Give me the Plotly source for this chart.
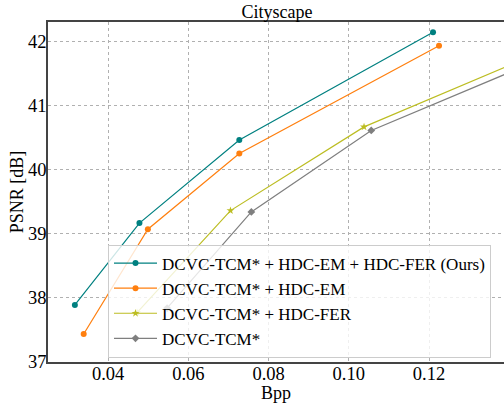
import plotly.graph_objects as go

# Data
bpp_ours = [0.0317, 0.0478, 0.0727, 0.1210]
psnr_ours = [37.89, 39.165, 40.46, 42.14]

bpp_em = [0.0339, 0.0499, 0.0727, 0.1225]
psnr_em = [37.436, 39.07, 40.25, 41.93]

bpp_fer = [0.0472, 0.0705, 0.1038, 0.1700]
psnr_fer = [37.77, 39.36, 40.665, 42.42]

bpp_base = [0.0547, 0.0757, 0.1056, 0.1720]
psnr_base = [37.84, 39.34, 40.61, 42.35]

names = ["DCVC-TCM* + HDC-EM + HDC-FER (Ours)", "DCVC-TCM* + HDC-EM",
         "DCVC-TCM* + HDC-FER", "DCVC-TCM*"]
colors = ["#008080", "#ff7f0e", "#bcbd22", "#7f7f7f"]
symbols = ["circle", "circle", "star", "diamond"]
msizes = [6, 6, 6, 6]

xs = [bpp_ours, bpp_em, bpp_fer, bpp_base]
ys = [psnr_ours, psnr_em, psnr_fer, psnr_base]

FONT = "Times New Roman, Liberation Serif, DejaVu Serif, serif"

fig = go.Figure()
for x, y, n, c, s, ms in zip(xs, ys, names, colors, symbols, msizes):
    fig.add_trace(go.Scatter(x=x, y=y, name=n, mode="lines+markers",
                             line=dict(color=c, width=1.2),
                             marker=dict(symbol=s, size=ms, color=c)))

fig.update_layout(
    width=504, height=403,
    margin=dict(l=48, r=0, t=22, b=41, autoexpand=False),
    paper_bgcolor="white", plot_bgcolor="white",
    font=dict(family=FONT, color="black"),
    title=dict(text="Cityscape", x=277/504, xanchor="center", xref="container",
               y=1 - 12/403, yref="container", yanchor="middle",
               font=dict(family=FONT, size=18, color="black")),
    showlegend=True,
    legend=dict(x=(108-48)/456, y=(362-357.5)/340, xanchor="left", yanchor="bottom",
                itemwidth=43,
                bgcolor="rgba(255,255,255,0.8)", bordercolor="#cccccc", borderwidth=1,
                font=dict(family=FONT, size=17, color="black")),
)
fig.update_xaxes(range=[0.025, 0.1387], tickvals=[0.04, 0.06, 0.08, 0.10, 0.12],
                 tickformat=".2f", showgrid=True, gridcolor="#b0b0b0", griddash="dot",
                 gridwidth=0.8, zeroline=False, showline=True, mirror=True,
                 linecolor="#444444", linewidth=1.5, ticks="", automargin=False,
                 ticklabelstandoff=-6,
                 tickfont=dict(family=FONT, size=18.5, color="black"),
                 title=dict(text="Bpp", font=dict(family=FONT, size=18, color="black"),
                            standoff=10))
fig.update_yaxes(range=[37, 42.3], tickvals=[37, 38, 39, 40, 41, 42],
                 showgrid=True, gridcolor="#b0b0b0", griddash="dot", gridwidth=0.8,
                 zeroline=False, showline=True, mirror=False, automargin=False,
                 ticklabelstandoff=-4,
                 linecolor="#444444", linewidth=1.5, ticks="",
                 tickfont=dict(family=FONT, size=18.5, color="black"),
                 title=dict(text="PSNR [dB]", font=dict(family=FONT, size=18, color="black"),
                            standoff=0))

fig.write_html("out.html", config={"displayModeBar": False},
               post_script="document.body.style.margin='0';document.body.style.padding='0';")
